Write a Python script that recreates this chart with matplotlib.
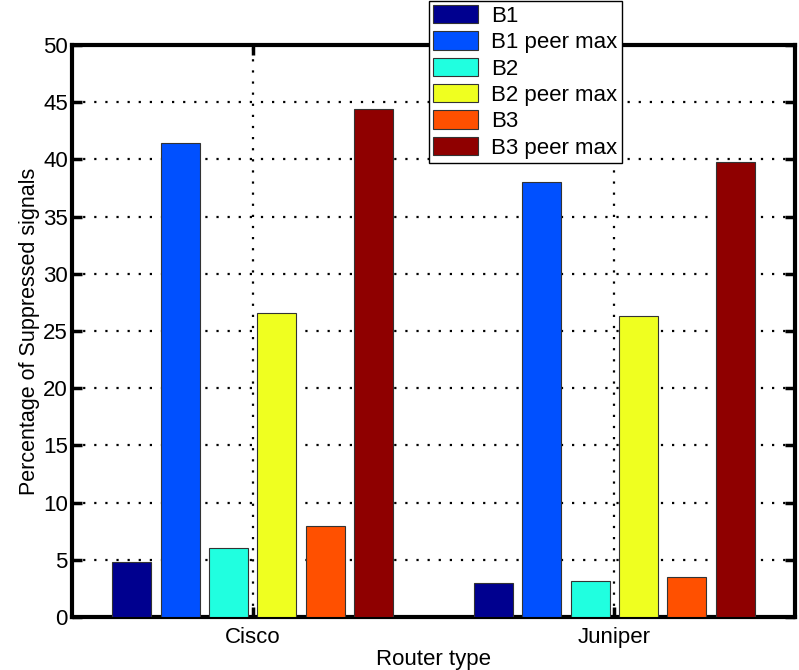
import matplotlib
matplotlib.use("Agg")
import matplotlib.pyplot as plt
import numpy as np

categories = ["Cisco", "Juniper"]
series_names = ["B1", "B1 peer max", "B2", "B2 peer max", "B3", "B3 peer max"]
b1 = [4.8, 3.0]
b1_peer_max = [41.4, 38.0]
b2 = [6.0, 3.15]
b2_peer_max = [26.6, 26.35]
b3 = [7.95, 3.5]
b3_peer_max = [44.4, 39.8]
yticks = [0, 5, 10, 15, 20, 25, 30, 35, 40, 45, 50]

colors = ["#00008F", "#0050FF", "#20FFE0", "#EFFF20", "#FF5000", "#8F0000"]
series = [b1, b1_peer_max, b2, b2_peer_max, b3, b3_peer_max]

plt.rcParams['font.family'] = ['Liberation Sans', 'DejaVu Sans']

fig = plt.figure(figsize=(7.99, 6.70), dpi=100)
ax = fig.add_axes([72/799, 53/670, (795-72)/799, (617-45)/670])

x = np.arange(1, len(categories) + 1)
n = len(series)
step = 0.134
width = 0.108
handles = []
for i, (vals, c, name) in enumerate(zip(series, colors, series_names)):
    off = (i - (n - 1) / 2) * step
    h = ax.bar(x + off, vals, width, color=c, edgecolor="#333333", linewidth=0.8,
               label=name, zorder=3)
    handles.append(h)

ax.set_xlim(0.5, 2.5)
ax.set_ylim(0, 50)
ax.set_yticks(yticks)
ax.set_xticks(x)
ax.set_xticklabels(categories, fontsize=16)
ax.tick_params(axis='y', labelsize=16, pad=3)
ax.tick_params(axis='x', pad=7)
ax.tick_params(direction='in', width=2.5, length=7, right=True, top=True)
ax.grid(True, color='black', linestyle=(0, (1, 4)), linewidth=1.6, zorder=1)
ax.set_axisbelow(True)
for s in ax.spines.values():
    s.set_linewidth(3)
ax.set_ylabel("Percentage of Suppressed signals", fontsize=15.5, labelpad=2)
ax.set_xlabel("Router type", fontsize=16, labelpad=1)

leg = fig.legend(handles=handles, labels=series_names, loc='lower left',
                 bbox_to_anchor=(429/799, (670-163)/670), fontsize=16,
                 frameon=True, fancybox=False, edgecolor='black', framealpha=1,
                 handlelength=2.0, handleheight=0.9, labelspacing=0.2,
                 borderpad=0.2, handletextpad=0.6, borderaxespad=0)
leg.get_frame().set_linewidth(1.0)

fig.savefig("out.png", dpi=100)
